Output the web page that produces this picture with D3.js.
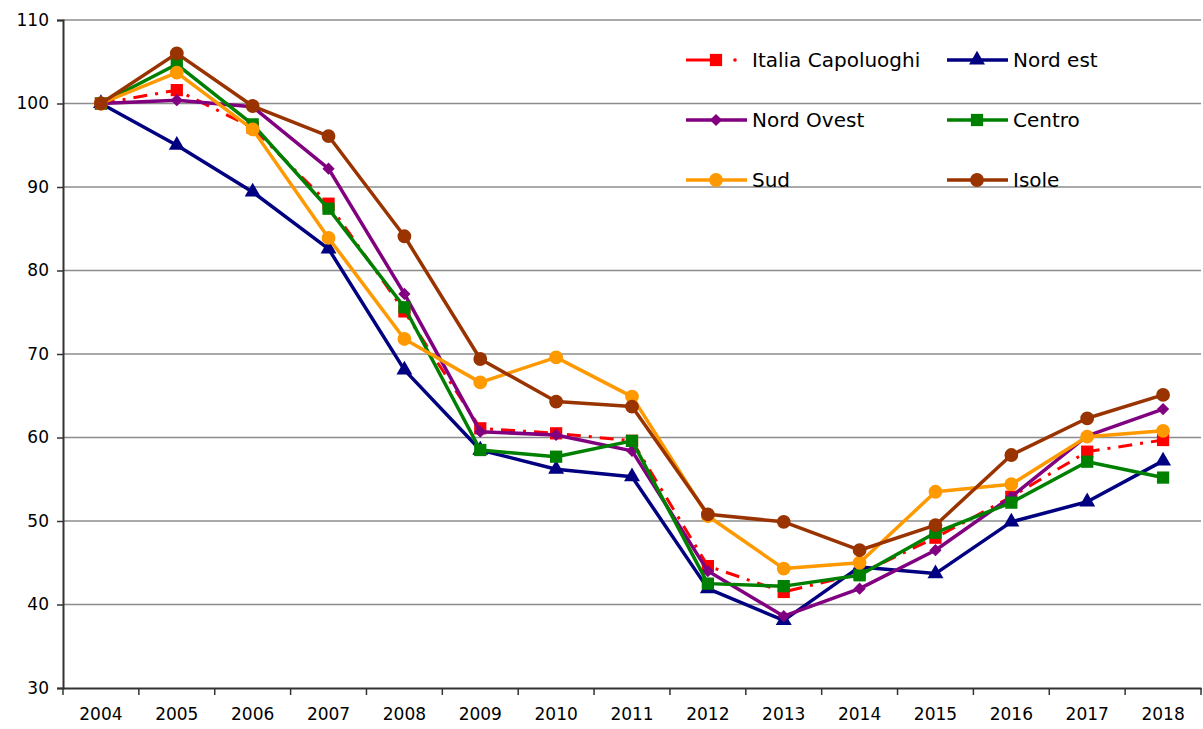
<!DOCTYPE html>
<html>
<meta charset="utf-8">
<script src="https://d3js.org/d3.v7.min.js"></script>
<head>
<style>
body { margin: 0; background: #fff; }
svg text { font-family: "DejaVu Sans", Verdana, sans-serif; }
</style>
</head>
<body>
<div id="chart"></div>
<script>

// data
var years = ["2004","2005","2006","2007","2008","2009","2010","2011","2012","2013","2014","2015","2016","2017","2018"];
var italiaCapoluoghi = [100, 101.6, 97.1, 88.0, 75.1, 61.1, 60.5, 59.6, 44.6, 41.5, 43.7, 48.0, 52.9, 58.3, 59.7];
var nordEst = [100, 95.0, 89.4, 82.6, 68.1, 58.5, 56.2, 55.3, 41.9, 38.1, 44.5, 43.7, 49.9, 52.3, 57.2];
var nordOvest = [100, 100.4, 99.6, 92.2, 77.2, 60.7, 60.3, 58.4, 44.0, 38.6, 41.9, 46.5, 52.9, 60.2, 63.4];
var centro = [100, 104.7, 97.5, 87.4, 75.6, 58.5, 57.7, 59.6, 42.5, 42.2, 43.5, 48.6, 52.2, 57.1, 55.2];
var sud = [100, 103.7, 96.9, 83.9, 71.8, 66.6, 69.6, 64.9, 50.6, 44.3, 45.0, 53.5, 54.4, 60.1, 60.8];
var isole = [100, 106.0, 99.7, 96.1, 84.1, 69.4, 64.3, 63.7, 50.8, 49.9, 46.5, 49.5, 57.9, 62.3, 65.1];
var yTicks = [30, 40, 50, 60, 70, 80, 90, 100, 110];

var series = [
  {name: "Italia Capoluoghi", values: italiaCapoluoghi, color: "#ff0000", marker: "square", dash: "14,8,3,8", width: 3},
  {name: "Nord est", values: nordEst, color: "#000080", marker: "triangle", dash: null, width: 3.5},
  {name: "Nord Ovest", values: nordOvest, color: "#800080", marker: "diamond", dash: null, width: 3.5},
  {name: "Centro", values: centro, color: "#008000", marker: "square", dash: null, width: 3.5},
  {name: "Sud", values: sud, color: "#ff9900", marker: "circle", dash: null, width: 3.5},
  {name: "Isole", values: isole, color: "#993300", marker: "circle", dash: null, width: 3.5}
];

var width = 1203, height = 729;
var plotLeft = 63, plotRight = 1201, plotTop = 20, plotBottom = 688;

var svg = d3.select("#chart").append("svg")
  .attr("width", width)
  .attr("height", height);

var x = d3.scaleBand().domain(years).range([plotLeft, plotRight]);
var y = d3.scaleLinear().domain([30, 110]).range([plotBottom, plotTop]);

// gridlines
svg.append("g")
  .selectAll("line")
  .data(yTicks.slice(1))
  .enter().append("line")
    .attr("x1", plotLeft).attr("x2", plotRight)
    .attr("y1", function(d) { return y(d); })
    .attr("y2", function(d) { return y(d); })
    .attr("stroke", "#8c8c8c")
    .attr("stroke-width", 1.5);

// y axis
var yAxis = svg.append("g")
  .attr("transform", "translate(" + plotLeft + ",0)")
  .call(d3.axisLeft(y).tickValues(yTicks).tickSize(6).tickPadding(8));
yAxis.select(".domain").attr("stroke", "#333").attr("stroke-width", 2);
yAxis.selectAll(".tick line").attr("stroke", "#333").attr("stroke-width", 1.5);
yAxis.selectAll("text").style("font-size", "17px").attr("fill", "#000");

// x axis
var xAxis = svg.append("g")
  .attr("transform", "translate(0," + plotBottom + ")")
  .call(d3.axisBottom(x).tickSize(0).tickPadding(20));
xAxis.select(".domain").attr("stroke", "#333").attr("stroke-width", 2);
xAxis.selectAll("text").style("font-size", "17px").attr("fill", "#000");
xAxis.selectAll(".bound")
  .data(years.concat(["end"]))
  .enter().append("line")
    .attr("x1", function(d, i) { return plotLeft + i * x.step(); })
    .attr("x2", function(d, i) { return plotLeft + i * x.step(); })
    .attr("y1", 0).attr("y2", 7)
    .attr("stroke", "#333").attr("stroke-width", 1.5);

function xc(d) { return x(d) + x.bandwidth() / 2; }

var line = d3.line()
  .x(function(d, i) { return xc(years[i]); })
  .y(function(d) { return y(d); });

var symbols = {
  square: d3.symbol().type(d3.symbolSquare).size(150),
  triangle: d3.symbol().type(d3.symbolTriangle).size(110),
  diamond: d3.symbol().type(d3.symbolSquare).size(75),
  circle: d3.symbol().type(d3.symbolCircle).size(150)
};
var rot = { diamond: " rotate(45)" };

series.forEach(function(s) {
  var g = svg.append("g");
  g.append("path")
    .datum(s.values)
    .attr("d", line)
    .attr("fill", "none")
    .attr("stroke", s.color)
    .attr("stroke-width", s.width)
    .attr("stroke-linejoin", "round")
    .attr("stroke-dasharray", s.dash);
  g.selectAll(".m")
    .data(s.values)
    .enter().append("path")
      .attr("d", symbols[s.marker])
      .attr("transform", function(d, i) { return "translate(" + xc(years[i]) + "," + y(d) + ")" + (rot[s.marker] || ""); })
      .attr("fill", s.color);
});

// legend
var legendCols = [686, 947];
var legendRows = [60, 120, 180];
series.forEach(function(s, i) {
  var lx = legendCols[i % 2], ly = legendRows[Math.floor(i / 2)];
  var g = svg.append("g").attr("transform", "translate(" + lx + "," + ly + ")");
  if (s.dash) {
    g.append("line").attr("x1", 0).attr("x2", 30).attr("y1", 0).attr("y2", 0)
      .attr("stroke", s.color).attr("stroke-width", s.width);
    g.append("circle").attr("cx", 49).attr("cy", 0).attr("r", 1.8).attr("fill", s.color);
  } else {
    g.append("line").attr("x1", 0).attr("x2", 61).attr("y1", 0).attr("y2", 0)
      .attr("stroke", s.color).attr("stroke-width", s.width);
  }
  g.append("path").attr("d", symbols[s.marker])
    .attr("transform", "translate(30,0)" + (rot[s.marker] || "")).attr("fill", s.color);
  g.append("text").attr("x", 66).attr("y", 0).attr("dy", "0.35em")
    .style("font-size", "20px").attr("fill", "#000").text(s.name);
});

</script>
</body>
</html>
